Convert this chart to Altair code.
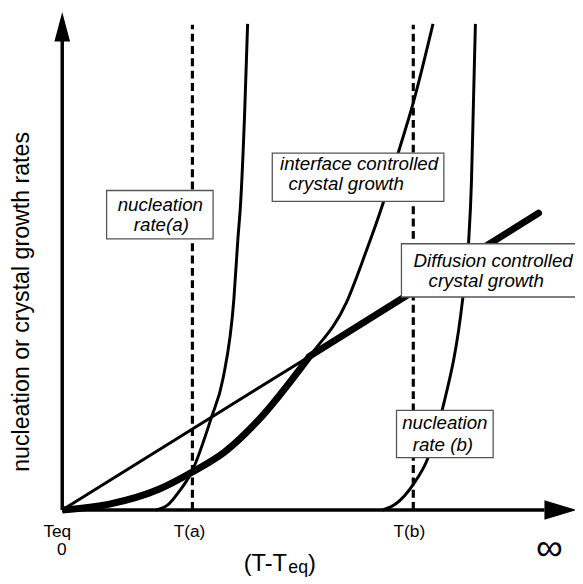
import altair as alt
import pandas as pd

# ---- data (x: undercooling T-Teq, y: rate; arbitrary units) ----
interface_x = [0, 4.8, 9.8, 13.1, 16.5, 19.8, 25.1, 28.8, 30.7, 32.5, 34.1, 35.6, 37.6]
interface_y = [0, 0.6, 2.1, 3.8, 5.9, 9.0, 15.6, 21.0, 25.9, 31.0, 36.3, 41.3, 49.3]

diffusion_x = [0, 25.1, 48.3]
diffusion_y = [0, 15.6, 30.1]

# effective (slower) growth: interface part then diffusion part
eff_curve_x = [0, 4.8, 9.8, 13.1, 16.5, 19.8, 25.1]
eff_curve_y = [0, 0.6, 2.1, 3.8, 5.9, 9.0, 15.6]
eff_line_x = [25.1, 48.3]
eff_line_y = [15.6, 30.1]

nuc_a_x = [9.5, 10.8, 11.8, 13.1, 15.1, 16.3, 17.4, 17.8, 18.1, 18.5, 18.8]
nuc_a_y = [0, 0.6, 1.8, 3.8, 9.3, 13.3, 21.3, 27.3, 31.3, 40.3, 49.3]

nuc_b_x = [32.5, 33.8, 35.6, 37.1, 38.5, 40.6, 41.2, 41.5, 41.7, 41.9]
nuc_b_y = [0, 0.6, 2.6, 5.3, 10.0, 21.3, 27.0, 33.3, 41.3, 49.3]

t_marks = ["T(a)", "T(b)"]
t_values = [13.2, 35.6]
dash_top = 49.2

box_texts = [
    ["nucleation", "rate(a)"],
    ["interface controlled", "crystal growth"],
    ["Diffusion controlled", "crystal growth"],
    ["nucleation", "rate (b)"],
]

# ---- scales ----
XD = [-5.5, 52.0]
YD = [-7.1, 50.5]
xs = alt.Scale(domain=XD, nice=False, zero=False)
ys = alt.Scale(domain=YD, nice=False, zero=False)
X = lambda f="x": alt.X(f"{f}:Q", scale=xs, axis=None)
Y = lambda f="y": alt.Y(f"{f}:Q", scale=ys, axis=None)
FONT = "Liberation Sans"


def line(xv, yv, width, interp="monotone", cap="butt", dash=None):
    df = pd.DataFrame({"x": xv, "y": yv, "o": range(len(xv))})
    kw = dict(color="black", strokeWidth=width, interpolate=interp, strokeCap=cap)
    if dash:
        kw["strokeDash"] = dash
    return alt.Chart(df).mark_line(**kw).encode(x=X(), y=Y(), order="o:Q")


def text(xv, yv, t, size, style="normal", align="center", baseline="middle", angle=0):
    df = pd.DataFrame({"x": xv, "y": yv, "t": t})
    kw = dict(font=FONT, fontSize=size, fontStyle=style, align=align,
              baseline=baseline, color="black")
    if angle:
        kw["angle"] = angle
    return alt.Chart(df).mark_text(**kw).encode(x=X(), y=Y(), text="t:N")


layers = []
# axes
layers.append(line([0, 0], [0, 47.6], 3.5, "linear"))
layers.append(line([0, 48.9], [0, 0], 3.5, "linear"))
layers.append(alt.Chart(pd.DataFrame({"x": [0], "y": [49.0]})).mark_point(
    shape="M0,-1L0.53,1L-0.53,1Z", size=900, filled=True, color="black", opacity=1, strokeWidth=0
).encode(x=X(), y=Y()))
layers.append(alt.Chart(pd.DataFrame({"x": [50.55], "y": [0]})).mark_point(
    shape="M1,0L-1,0.6L-1,-0.6Z", size=1089, filled=True, color="black", opacity=1, strokeWidth=0
).encode(x=X(), y=Y()))

# curves
layers.append(line(diffusion_x, diffusion_y, 3, "linear"))
layers.append(line(interface_x, interface_y, 3))
layers.append(line(nuc_a_x, nuc_a_y, 3))
layers.append(line(nuc_b_x, nuc_b_y, 3))
layers.append(line(eff_curve_x, eff_curve_y, 7))
layers.append(line(eff_line_x, eff_line_y, 7, "linear", cap="round"))

# dashed temperature markers
for tv in t_values:
    layers.append(line([tv, tv], [0, dash_top], 3.2, "linear", dash=[8, 4.5]))

# label boxes
boxes = pd.DataFrame({
    "x": [4.5, 21.3, 34.4, 33.9],
    "x2": [15.3, 38.7, 52.5, 43.7],
    "y": [32.4, 36.2, 27.0, 10.1],
    "y2": [27.5, 31.3, 21.6, 5.3],
})
layers.append(alt.Chart(boxes).mark_rect(
    fill="white", stroke="#555555", strokeWidth=1.3
).encode(x=X(), x2="x2:Q", y=Y(), y2="y2:Q"))

text_pos = [
    [(9.95, 30.9), (10.05, 28.9)],
    [(30.1, 35.1), (28.8, 33.0)],
    [(43.7, 25.2), (43.0, 23.2)],
    [(38.8, 8.8), (38.6, 6.6)],
]
bx, by, bt = [], [], []
for lines_, pos in zip(box_texts, text_pos):
    for t, (px, py) in zip(lines_, pos):
        bx.append(px); by.append(py); bt.append(t)
layers.append(text(bx, by, bt, 19, style="italic"))

# tick labels
layers.append(text([-0.5, -0.05, 12.9, 35.2], [-2.2, -4.1, -2.2, -2.2],
                   ["Teq", "0"] + t_marks, 17.5))
layers.append(text([49.4], [-4.0], ["∞"], 38))

# x title with subscript
layers.append(text([18.4], [-6.2], ["(T-T"], 24, align="left", baseline="alphabetic"))
layers.append(text([22.93], [-6.4], ["eq"], 18, align="left", baseline="alphabetic"))
layers.append(text([24.93], [-6.2], [")"], 24, align="left", baseline="alphabetic"))

# y title
layers.append(text([-4.1], [21.1], ["nucleation or crystal growth rates"], 23.5, angle=270))

chart = alt.layer(*layers).properties(
    width=575, height=576, autosize=alt.AutoSizeParams(type="none"), padding=0
).configure_view(stroke=None)

chart.save("out.html", embed_options={"renderer": "svg", "actions": False})
